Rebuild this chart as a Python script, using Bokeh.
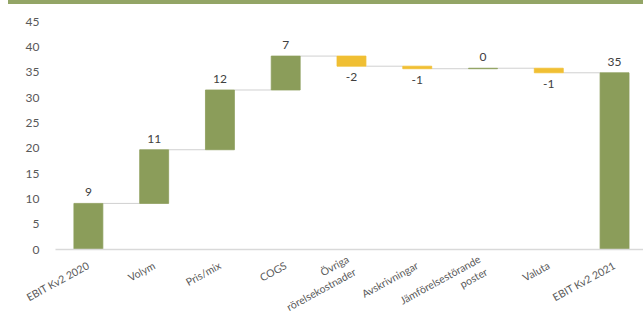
from bokeh.plotting import figure
from bokeh.models import Range1d, FixedTicker, ColumnDataSource, Div
from bokeh.layouts import column
from bokeh.core.properties import value
from bokeh.embed import file_html
from bokeh.resources import INLINE

# EBIT bridge, Q2 2020 -> Q2 2021 (MSEK)
categories = ["EBIT Kv2 2020", "Volym", "Pris/mix", "COGS",
              "Övriga\nrörelsekostnader", "Avskrivningar",
              "Jämförelsestörande\nposter", "Valuta", "EBIT Kv2 2021"]
start_value = 9.1
changes = [10.6, 11.8, 6.7, -2.0, -0.5, 0.1, -0.9]
y_ticks = [0, 5, 10, 15, 20, 25, 30, 35, 40, 45]

GREEN = "#8b9d5a"
YELLOW = "#f0bf33"
FONT = "Lato"


def excel_round(v):
    # round half away from zero, like a "0" number format
    s = -1 if v < 0 else 1
    return int(s * int(abs(v) + 0.5))


# build bar extents and running totals
bottoms, tops, colors, labels, label_y, offsets = [], [], [], [], [], []
level = start_value
bottoms.append(0.0); tops.append(start_value); colors.append(GREEN)
labels.append(str(excel_round(start_value))); label_y.append(start_value); offsets.append(-11)
levels = [start_value]
for c in changes:
    new = level + c
    bottoms.append(min(level, new)); tops.append(max(level, new))
    colors.append(GREEN if c >= 0 else YELLOW)
    labels.append(str(excel_round(c)))
    label_y.append(new)
    offsets.append(-11 if c >= 0 else 11)
    level = new
    levels.append(level)
total = level
bottoms.append(0.0); tops.append(total); colors.append(GREEN)
labels.append(str(excel_round(total))); label_y.append(total); offsets.append(-11)
levels.append(total)

xs = list(range(len(categories)))
bar_w = 0.44

bars = ColumnDataSource(dict(x=xs, bottom=bottoms, top=tops, color=colors))
texts = ColumnDataSource(dict(x=xs, y=label_y, text=labels, off=offsets))

# connectors between consecutive bars at the running level
conn = ColumnDataSource(dict(
    x0=[x + bar_w / 2 for x in xs[:-1]],
    x1=[x + 1 - bar_w / 2 for x in xs[:-1]],
    y=levels[:-1],
))

p = figure(frame_width=588, frame_height=239, output_backend="svg",
           toolbar_location=None,
           x_range=Range1d(-0.5, 8.44), y_range=Range1d(0, 47.2),
           min_border_left=55, min_border_right=0, min_border_top=6,
           min_border_bottom=0)
p.outline_line_color = None
p.xgrid.visible = False
p.ygrid.visible = False
p.background_fill_color = "white"
p.border_fill_color = "white"

p.segment(x0="x0", x1="x1", y0="y", y1="y", source=conn,
          line_color="#d0d0d0", line_width=1)
p.vbar(x="x", bottom="bottom", top="top", width=bar_w, source=bars,
       fill_color="color", line_color="color", line_width=0.8)
p.text(x="x", y="y", text="text", y_offset="off", source=texts,
       text_align="center", text_baseline="middle",
       text_font=value(FONT), text_font_size="12px", text_color="#404040")

p.yaxis.ticker = FixedTicker(ticks=y_ticks)
p.yaxis.axis_line_color = None
p.yaxis.major_tick_line_color = None
p.yaxis.minor_tick_line_color = None
p.yaxis.major_label_text_font = FONT
p.yaxis.major_label_text_font_size = "12px"
p.yaxis.major_label_text_color = "#595959"
p.yaxis.major_label_standoff = 10

p.xaxis.ticker = FixedTicker(ticks=xs)
p.xaxis.major_label_overrides = {i: c for i, c in enumerate(categories)}
p.xaxis.axis_line_color = "#d9d9d9"
p.xaxis.axis_line_width = 1.5
p.xaxis.major_tick_line_color = None
p.xaxis.minor_tick_line_color = None
p.xaxis.major_label_orientation = 0.5
p.xaxis.major_label_text_font = FONT
p.xaxis.major_label_text_font_size = "10.5px"
p.xaxis.major_label_text_color = "#595959"
p.xaxis.major_label_standoff = 9

band = Div(text="", width=635, height=4, margin=(0, 0, 0, 8),
           styles={"background-color": "#93a566"})

layout = column(band, p, spacing=0)
open("out.html", "w").write(file_html(layout, INLINE))
